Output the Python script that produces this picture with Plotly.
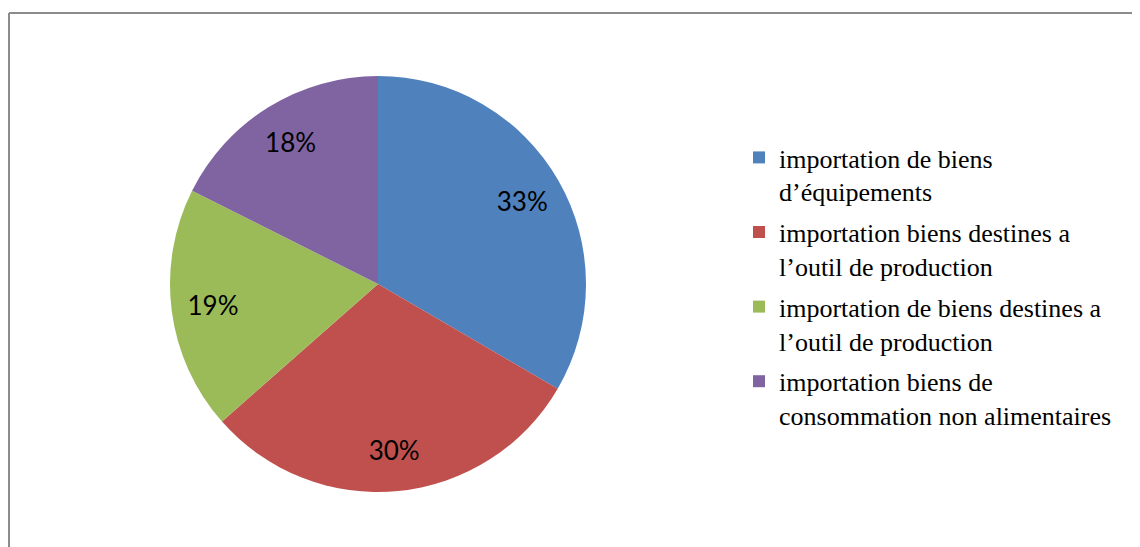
import plotly.graph_objects as go

categories = [
    "importation de biens<br>d’équipements",
    "importation biens destines a<br>l’outil de production",
    "importation de biens destines a<br>l’outil de production",
    "importation biens de<br>consommation non alimentaires",
]
values = [33.4, 30.1, 18.9, 17.6]
colors = ["#4F81BD", "#C0504D", "#9BBB59", "#8064A2"]

# page body has an 8px margin; positions below are in figure pixels
W, H = 1140, 547
OFF = 8
cx, cy, R = 378 - OFF, 284 - OFF, 208
dom = dict(x=[(cx - R) / W, (cx + R) / W], y=[(H - cy - R) / H, (H - cy + R) / H])

fig = go.Figure()

# coloured pie (no text)
fig.add_trace(go.Pie(
    labels=categories, values=values, sort=False, direction="clockwise", rotation=0,
    marker=dict(colors=colors, line=dict(width=0)),
    textinfo="none", domain=dom, showlegend=False, hoverinfo="label+percent",
))

# transparent ring carrying the percentage labels near the outer edge
fig.add_trace(go.Pie(
    labels=categories, values=values, sort=False, direction="clockwise", rotation=0,
    hole=0.6,
    marker=dict(colors=["rgba(0,0,0,0)"] * len(values), line=dict(width=0)),
    texttemplate="%{percent:.0%}", textposition="inside",
    insidetextorientation="horizontal",
    textfont=dict(family="Lato", size=26, color="#000000"),
    domain=dom, showlegend=False, hoverinfo="skip",
))

# legend entries (one group per category so the gap between items can be set)
for i, (name, col) in enumerate(zip(categories, colors)):
    fig.add_trace(go.Scatter(
        x=[None], y=[None], mode="markers", name=name,
        marker=dict(symbol="square", size=12, color=col),
        legendgroup=f"g{i}", showlegend=True, hoverinfo="skip",
    ))

fig.update_layout(
    width=W, height=H,
    margin=dict(l=0, r=0, t=0, b=0),
    paper_bgcolor="white",
    plot_bgcolor="white",
    xaxis=dict(visible=False),
    yaxis=dict(visible=False),
    showlegend=True,
    legend=dict(
        x=731 / W, y=(H - 126) / H, xanchor="left", yanchor="top",
        font=dict(family="Liberation Serif", size=26, color="#000000"),
        bgcolor="rgba(0,0,0,0)",
        itemwidth=30,
        valign="top",
        tracegroupgap=4,
        traceorder="grouped",
    ),
    uniformtext=dict(minsize=26, mode="show"),
    shapes=[
        dict(type="line", xref="paper", yref="paper", x0=1 / W, x1=1.02, y0=1 - 5 / H, y1=1 - 5 / H,
             line=dict(color="#8C8C8C", width=2)),
        dict(type="line", xref="paper", yref="paper", x0=1 / W, x1=1 / W, y0=-0.02, y1=1 - 5 / H,
             line=dict(color="#8C8C8C", width=2)),
    ],
)

fig.write_html("out.html")
